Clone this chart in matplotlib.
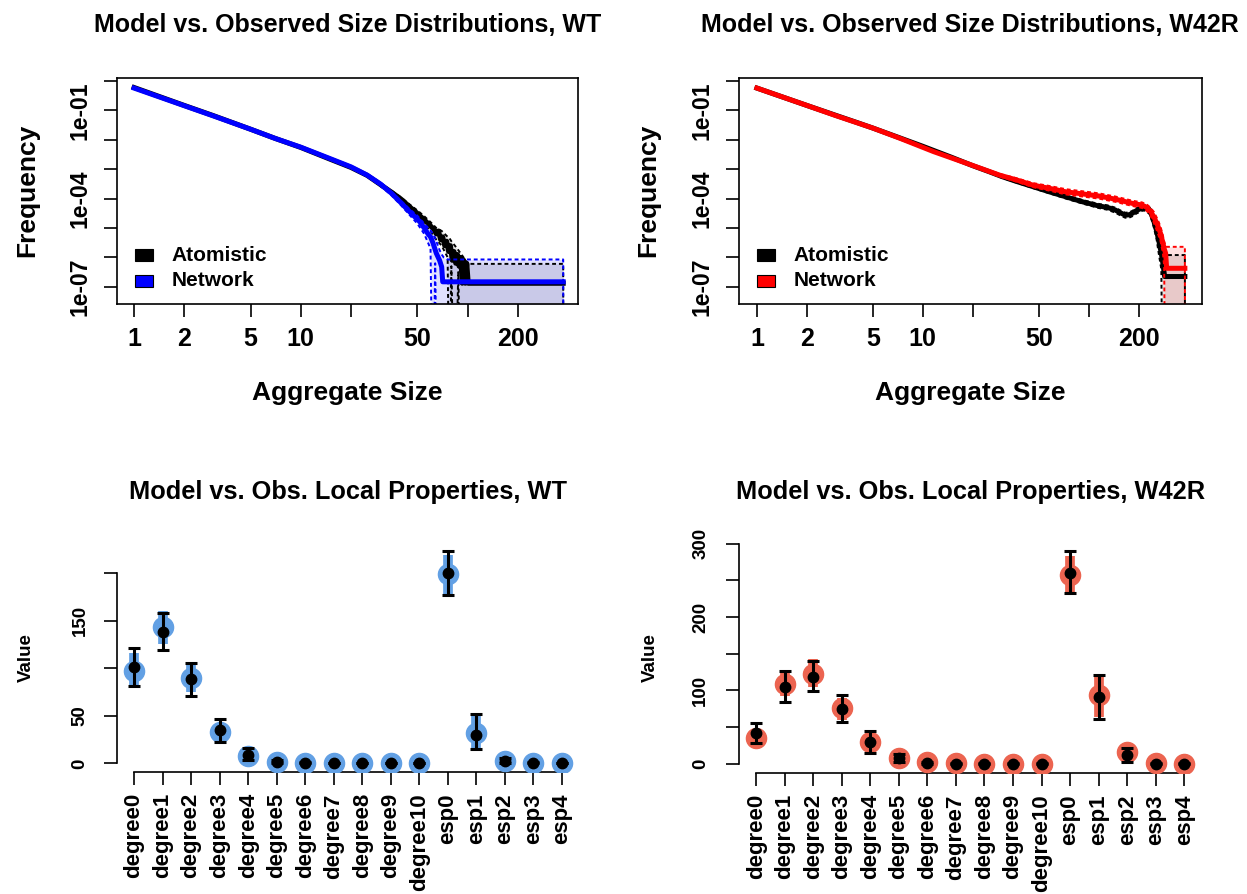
import numpy as np
import matplotlib
matplotlib.use("Agg")
import matplotlib.pyplot as plt
from matplotlib.patches import Rectangle
from matplotlib.ticker import FixedLocator, FixedFormatter, NullLocator

plt.rcParams['font.family'] = ['Liberation Sans', 'DejaVu Sans']
plt.rcParams['font.weight'] = 'bold'
plt.rcParams['axes.linewidth'] = 1.2

EMPTY = -12.0  # log10 frequency for bins with no counts (falls below the axis floor)

# ---------------- size distributions (log10 frequency) ----------------
# WT, atomistic simulation
wt_atom_size = [1, 2, 3, 5, 7, 10, 15, 20, 25, 30, 35, 40, 45, 50, 55, 60, 63, 65, 67, 69, 71,
                73, 75, 77, 79, 81, 83, 85, 87, 89, 91, 93, 95, 97, 99, 101, 104, 375]
wt_atom_logf = [-0.22, -0.83, -1.18, -1.64, -1.95, -2.26, -2.66, -2.94, -3.21, -3.52, -3.78,
                -4.02, -4.28, -4.50, -4.72, -4.93, -5.05, -5.20, -5.10, -5.40, -5.30, -5.60,
                -5.45, -5.80, -5.60, -6.10, -5.80, -6.20, -5.90, -6.30, -6.00, -6.88, -6.10,
                -6.88, -6.20, -6.88, -6.88, -6.88]
wt_atom_ci_size = [1, 2, 3, 5, 7, 10, 15, 20, 25, 30, 35, 40, 45, 50, 55, 60, 65, 70, 76, 78,
                   80, 84, 88, 92, 96, 100, 375, 376]
wt_atom_ci_hi = [-0.20, -0.81, -1.16, -1.62, -1.93, -2.24, -2.63, -2.91, -3.18, -3.48, -3.73,
                 -3.96, -4.20, -4.40, -4.60, -4.80, -5.00, -5.10, -5.30, -5.35, -5.45, -5.60,
                 -5.75, -5.90, -6.05, -6.22, -6.22, EMPTY]
wt_atom_ci_lo = [-0.24, -0.85, -1.20, -1.66, -1.97, -2.28, -2.69, -2.97, -3.25, -3.57, -3.84,
                 -4.10, -4.38, -4.62, -4.86, -5.10, -5.40, -5.60, -6.00, EMPTY, -6.30, EMPTY,
                 -6.50, EMPTY, EMPTY, EMPTY, EMPTY, EMPTY]

# WT, network model
wt_net_size = [1, 2, 3, 5, 7, 10, 15, 20, 25, 30, 35, 40, 45, 50, 52, 55, 58, 60, 62, 65, 68,
               70, 71, 375]
wt_net_logf = [-0.24, -0.84, -1.19, -1.64, -1.95, -2.25, -2.64, -2.92, -3.20, -3.50, -3.82,
               -4.15, -4.45, -4.70, -4.80, -5.00, -5.20, -5.30, -5.50, -5.86, -6.10, -6.32,
               -6.83, -6.83]
wt_net_ci_size = [1, 2, 3, 5, 7, 10, 15, 20, 25, 30, 35, 40, 45, 50, 55, 60, 62, 64, 66, 68,
                  70, 72, 76, 375, 376]
wt_net_ci_hi = [-0.22, -0.82, -1.17, -1.62, -1.93, -2.23, -2.61, -2.89, -3.16, -3.45, -3.76,
                -4.08, -4.36, -4.58, -4.85, -5.08, -5.20, -5.35, -5.55, -5.75, -5.90, -6.00,
                -6.07, -6.07, EMPTY]
wt_net_ci_lo = [-0.26, -0.86, -1.21, -1.66, -1.97, -2.27, -2.67, -2.95, -3.24, -3.56, -3.89,
                -4.23, -4.56, -4.85, -5.20, -5.70, EMPTY, -6.20, EMPTY, EMPTY, EMPTY, EMPTY,
                EMPTY, EMPTY, EMPTY]

# W42R, atomistic simulation
mu_atom_size = [1, 2, 3, 4, 5, 7, 10, 15, 20, 25, 30, 36, 46, 58, 73, 92, 115, 130, 145, 155,
                166, 175, 183, 195, 213, 225, 233, 245, 256, 265, 274, 280, 287, 380]
mu_atom_logf = [-0.24, -0.83, -1.17, -1.41, -1.60, -1.90, -2.22, -2.60, -2.88, -3.08, -3.25,
                -3.40, -3.59, -3.77, -3.94, -4.11, -4.25, -4.30, -4.39, -4.48, -4.56, -4.55,
                -4.50, -4.40, -4.30, -4.35, -4.39, -4.70, -5.07, -5.45, -5.86, -6.20, -6.65,
                -6.65]
mu_atom_ci_size = [1, 2, 3, 4, 5, 7, 10, 15, 20, 25, 30, 36, 46, 58, 73, 92, 115, 130, 145,
                   155, 166, 175, 183, 195, 213, 225, 233, 245, 256, 265, 274, 280, 287, 290,
                   380, 381]
mu_atom_ci_hi = [-0.22, -0.81, -1.15, -1.39, -1.58, -1.88, -2.20, -2.57, -2.85, -3.05, -3.21,
                 -3.36, -3.54, -3.72, -3.88, -4.05, -4.18, -4.23, -4.31, -4.40, -4.48, -4.47,
                 -4.42, -4.32, -4.22, -4.26, -4.30, -4.55, -4.85, -5.15, -5.45, -5.70, -5.92,
                 -5.92, -5.92, EMPTY]
mu_atom_ci_lo = [-0.26, -0.85, -1.19, -1.43, -1.62, -1.92, -2.24, -2.63, -2.91, -3.11, -3.29,
                 -3.44, -3.64, -3.82, -4.00, -4.17, -4.32, -4.38, -4.48, -4.57, -4.65, -4.65,
                 -4.60, -4.50, -4.40, -4.46, -4.52, -4.90, -5.35, -5.90, -6.40, EMPTY, EMPTY,
                 EMPTY, EMPTY, EMPTY]

# W42R, network model
mu_net_size = [1, 2, 3, 5, 7.3, 11.6, 18.4, 29, 37, 46, 58, 73, 92, 115, 145, 183, 210, 224,
               235, 247, 260, 271, 280, 285, 291, 295, 380]
mu_net_logf = [-0.24, -0.83, -1.18, -1.60, -1.95, -2.40, -2.80, -3.20, -3.37, -3.54, -3.65,
               -3.77, -3.84, -3.91, -4.02, -4.16, -4.22, -4.30, -4.42, -4.62, -4.90, -5.18,
               -5.50, -5.70, -5.86, -6.37, -6.37]
mu_net_ci_size = [1, 2, 3, 5, 7.3, 11.6, 18.4, 29, 37, 46, 58, 73, 92, 115, 145, 183, 210,
                  224, 235, 247, 260, 271, 280, 285, 291, 295, 380, 381]
mu_net_ci_hi = [-0.22, -0.81, -1.16, -1.58, -1.93, -2.38, -2.77, -3.16, -3.31, -3.47, -3.57,
                -3.68, -3.75, -3.82, -3.93, -4.07, -4.13, -4.20, -4.30, -4.45, -4.70, -4.95,
                -5.25, -5.45, -5.64, -5.64, -5.64, EMPTY]
mu_net_ci_lo = [-0.26, -0.85, -1.20, -1.62, -1.97, -2.42, -2.83, -3.25, -3.43, -3.61, -3.73,
                -3.86, -3.93, -4.00, -4.11, -4.25, -4.32, -4.42, -4.56, -4.82, -5.15, -5.45,
                -5.85, -6.30, EMPTY, EMPTY, EMPTY, EMPTY]

size_ticks = [1, 2, 5, 10, 20, 50, 100, 200]
size_labels = ['1', '2', '5', '10', '', '50', '', '200']
freq_exps = [0, -1, -2, -3, -4, -5, -6, -7]
freq_labels = ['', '1e-01', '', '', '1e-04', '', '', '1e-07']

# ---------------- local properties ----------------
terms = ['degree0', 'degree1', 'degree2', 'degree3', 'degree4', 'degree5', 'degree6',
         'degree7', 'degree8', 'degree9', 'degree10', 'esp0', 'esp1', 'esp2', 'esp3', 'esp4']

wt_obs = [97, 143.6, 90, 33.3, 7.7, 1.7, 0.4, 0.2, 0.1, 0.1, 0.1, 198.7, 31.5, 2.8, 0.3, 0.2]
wt_obs_lo = [79, 126, 75, 26, 4, 0.5, 0, 0, 0, 0, 0, 175, 14, 1, 0, 0]
wt_obs_hi = [116, 160, 107, 41, 12, 3, 1, 0.5, 0.3, 0.3, 0.3, 219, 51, 5, 0.8, 0.5]
wt_sim = [101, 138.4, 88.3, 35, 8.7, 1.7, 0.3, 0.2, 0.1, 0.1, 0.1, 199.8, 29.8, 2.8, 0.3, 0.2]
wt_sim_lo = [81.6, 119.1, 71.1, 22.7, 3.5, 0.3, 0, 0, 0, 0, 0, 177, 14.7, 0.5, 0, 0]
wt_sim_hi = [121.5, 157.7, 105.8, 46.3, 15.7, 4, 1, 0.5, 0.3, 0.3, 0.3, 223.2, 51.5, 6, 1, 0.5]

mu_obs = [35, 109, 122.7, 75.9, 29.6, 7.7, 2.3, 0.7, 0.6, 0.5, 0.5, 256.8, 94, 16.8, 0.8, 0.6]
mu_obs_lo = [30, 92, 105, 60, 22, 4, 0.5, 0, 0, 0, 0, 232.7, 64.5, 10, 0, 0]
mu_obs_hi = [40, 124, 143, 90, 38, 11, 4, 1.5, 1.2, 1, 1, 282.7, 121.4, 24, 1.5, 1.2]
mu_sim = [42.7, 104.5, 119, 75, 30.5, 7.7, 1.5, 0.3, 0.3, 0.3, 0.3, 260, 91.8, 12.3, 0.5, 0.4]
mu_sim_lo = [29, 84.1, 99.5, 56.8, 15.4, 3, 0, 0, 0, 0, 0, 232.7, 61.4, 3.2, 0, 0]
mu_sim_hi = [55.5, 126.8, 139.5, 93.2, 45, 13, 3, 1, 1, 1, 1, 290.5, 121.4, 22.3, 1.5, 1.2]

W, H = 1247, 894
fig = plt.figure(figsize=(W / 100, H / 100), dpi=100)


def px_axes(x0, y0, x1, y1):
    return fig.add_axes([x0 / W, 1 - y1 / H, (x1 - x0) / W, (y1 - y0) / H])


def size_panel(ax, series, title, xlim, ylab_x):
    ax.set_xscale('log')
    ax.set_yscale('log')
    for size, logf, ci_size, ci_hi, ci_lo, col, alpha in series:
        hi = 10 ** np.asarray(ci_hi)
        lo = 10 ** np.asarray(ci_lo)
        ax.fill_between(ci_size, lo, hi, color=col, alpha=alpha, lw=0)
        ax.plot(ci_size, hi, color=col, lw=1.4, ls=(0, (2, 1.5)))
        ax.plot(ci_size, lo, color=col, lw=1.4, ls=(0, (2, 1.5)))
        ax.plot(size, 10 ** np.asarray(logf), color=col, lw=3.6, solid_joinstyle='round')
    ax.set_xlim(*xlim)
    ax.set_ylim(10 ** -7.585, 10 ** 0.12)
    ax.xaxis.set_major_locator(FixedLocator(size_ticks))
    ax.xaxis.set_major_formatter(FixedFormatter(size_labels))
    ax.xaxis.set_minor_locator(NullLocator())
    ax.yaxis.set_major_locator(FixedLocator([10.0 ** e for e in freq_exps]))
    ax.yaxis.set_major_formatter(FixedFormatter(freq_labels))
    ax.yaxis.set_minor_locator(NullLocator())
    ax.tick_params(axis='both', direction='out', length=9.5, width=1.2)
    ax.tick_params(axis='x', labelsize=18, pad=7)
    ax.tick_params(axis='y', labelsize=16.5, pad=8.5, labelrotation=90)
    for lbl in ax.get_yticklabels():
        lbl.set_va('center')
    for sp in ax.spines.values():
        sp.set_linewidth(1.2)
    bb = ax.get_position()
    fig.text(bb.x0 + bb.width / 2, 1 - 25 / H, title, ha='center', va='center',
             fontsize=18, fontweight='bold')
    fig.text(bb.x0 + bb.width / 2, 1 - 393 / H, 'Aggregate Size', ha='center', va='center',
             fontsize=19, fontweight='bold')
    fig.text(ylab_x / W, bb.y0 + bb.height / 2, 'Frequency', ha='center', va='center',
             rotation=90, fontsize=19, fontweight='bold')
    # legend
    for i, (name, col) in enumerate([('Atomistic', series[0][5]), ('Network', series[1][5])]):
        yb = 0.19 - i * 0.114
        ax.add_patch(Rectangle((0.039, yb), 0.039, 0.053, transform=ax.transAxes,
                               facecolor=col, edgecolor='black', lw=0.8, zorder=5))
        ax.text(0.1187, yb + 0.026, name, transform=ax.transAxes, ha='left', va='center',
                fontsize=15, fontweight='bold', zorder=5)


def prop_panel(ax, obs, obs_lo, obs_hi, sim, sim_lo, sim_hi, col, ylim, yticks, ylabels,
               title, ylab_x, ypad):
    x = np.arange(1, len(terms) + 1)
    ax.vlines(x, obs_lo, obs_hi, color=col, lw=7, capstyle='butt', zorder=2)
    ax.plot(x, obs, 'o', ms=14.5, color=col, mec=col, zorder=3)
    sim = np.asarray(sim)
    ax.errorbar(x, sim, yerr=[sim - np.asarray(sim_lo), np.asarray(sim_hi) - sim], fmt='o',
                color='black', ms=7.5, elinewidth=2.2, capsize=4, capthick=2.2, zorder=4)
    ax.set_xlim(0.4, len(terms) + 0.6)
    ax.set_ylim(*ylim)
    for s in ('top', 'right'):
        ax.spines[s].set_visible(False)
    ax.spines['left'].set_bounds(yticks[0], yticks[-1])
    ax.spines['bottom'].set_bounds(1, len(terms))
    ax.spines['left'].set_linewidth(1.2)
    ax.spines['bottom'].set_linewidth(1.2)
    ax.set_xticks(x)
    ax.set_xticklabels(terms, rotation=90, fontsize=16, fontweight='bold')
    ax.set_yticks(yticks)
    ax.set_yticklabels(ylabels, rotation=90, fontsize=13.5, fontweight='bold')
    for lbl in ax.get_yticklabels():
        lbl.set_va('center')
    ax.tick_params(axis='both', direction='out', length=9.5, width=1.2)
    ax.tick_params(axis='x', pad=6)
    ax.tick_params(axis='y', pad=ypad)
    bb = ax.get_position()
    fig.text(bb.x0 + bb.width / 2, 1 - 492 / H, title, ha='center', va='center',
             fontsize=18.3, fontweight='bold')
    fig.text(ylab_x / W, bb.y0 + bb.height / 2, 'Value', ha='center', va='center',
             rotation=90, fontsize=13.5, fontweight='bold')


ax1 = px_axes(117, 77.5, 578, 304)
size_panel(ax1,
           [(wt_atom_size, wt_atom_logf, wt_atom_ci_size, wt_atom_ci_hi, wt_atom_ci_lo,
             'black', 0.10),
            (wt_net_size, wt_net_logf, wt_net_ci_size, wt_net_ci_hi, wt_net_ci_lo,
             '#0000FF', 0.12)],
           'Model vs. Observed Size Distributions, WT', (0.79, 460), 27)

ax2 = px_axes(739, 77.5, 1201.7, 304)
size_panel(ax2,
           [(mu_atom_size, mu_atom_logf, mu_atom_ci_size, mu_atom_ci_hi, mu_atom_ci_lo,
             'black', 0.10),
            (mu_net_size, mu_net_logf, mu_net_ci_size, mu_net_ci_hi, mu_net_ci_lo,
             '#FF0000', 0.12)],
           'Model vs. Observed Size Distributions, W42R', (0.78, 480), 648)

ax3 = px_axes(117, 542.7, 578.8, 771.7)
prop_panel(ax3, wt_obs, wt_obs_lo, wt_obs_hi, wt_sim, wt_sim_lo, wt_sim_hi, '#62A0E4',
           (-8.8, 232), [0, 50, 100, 150, 200], ['0', '50', '', '150', ''],
           'Model vs. Obs. Local Properties, WT', 26, 11)

ax4 = px_axes(739, 542.5, 1201.4, 772.7)
prop_panel(ax4, mu_obs, mu_obs_lo, mu_obs_hi, mu_sim, mu_sim_lo, mu_sim_hi, '#EC6450',
           (-11.9, 301.4), [0, 50, 100, 150, 200, 250, 300],
           ['0', '', '100', '', '200', '', '300'],
           'Model vs. Obs. Local Properties, W42R', 650, 12)

fig.savefig('out.png', dpi=100)
